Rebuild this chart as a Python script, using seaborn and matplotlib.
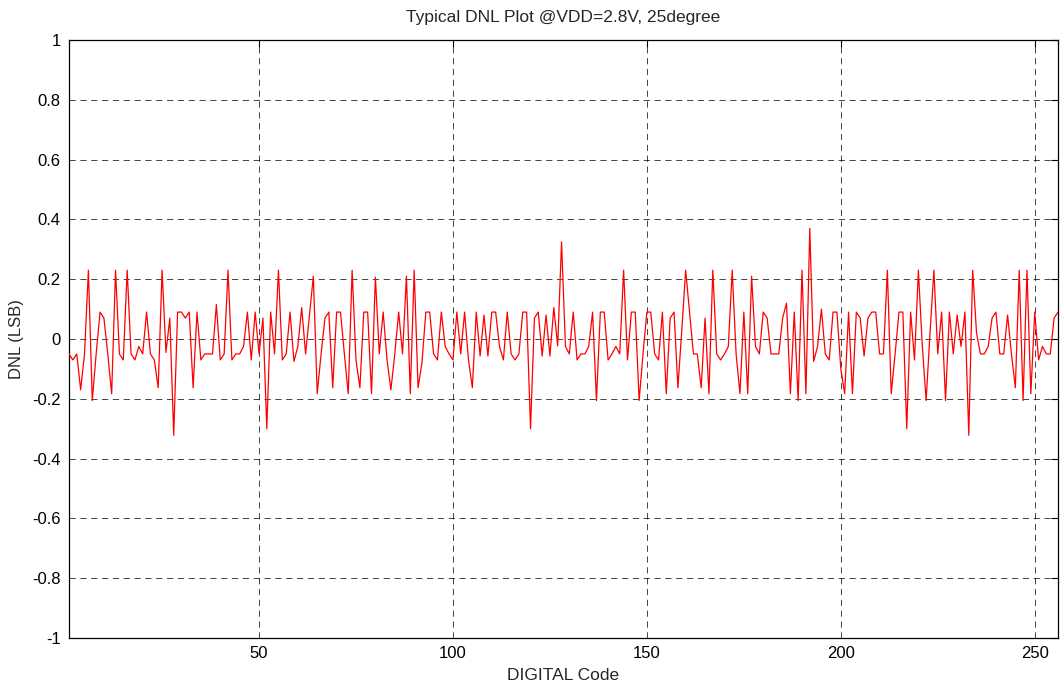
import numpy as np
import pandas as pd
import matplotlib
matplotlib.use("Agg")
import matplotlib.pyplot as plt
import seaborn as sns

codes = list(range(1, 257))
dnl = [
    -0.05, -0.07, -0.05, -0.17, -0.05, 0.23, -0.206, -0.05, 0.09, 0.07,
    -0.05, -0.183, 0.23, -0.05, -0.07, 0.23, -0.05, -0.07, -0.025, -0.05,
    0.09, -0.05, -0.07, -0.163, 0.23, -0.045, 0.07, -0.322, 0.09, 0.09,
    0.07, 0.09, -0.163, 0.09, -0.07, -0.05, -0.05, -0.05, 0.115, -0.07,
    -0.05, 0.23, -0.07, -0.05, -0.05, -0.025, 0.09, -0.07, 0.09, -0.05,
    0.07, -0.30, 0.09, -0.05, 0.23, -0.07, -0.05, 0.09, -0.075, -0.025,
    0.105, -0.05, 0.08, 0.21, -0.183, -0.05, 0.07, 0.09, -0.163, 0.09,
    0.09, -0.05, -0.183, 0.23, -0.07, -0.163, 0.09, 0.09, -0.183, 0.207,
    -0.05, 0.09, -0.07, -0.17, -0.05, 0.09, -0.05, 0.21, -0.183, 0.23,
    -0.163, -0.08, 0.09, 0.09, -0.05, -0.07, 0.09, -0.025, -0.05, -0.07,
    0.09, -0.05, 0.09, -0.07, -0.163, 0.09, -0.057, 0.08, -0.057, 0.09,
    0.09, -0.025, -0.07, 0.09, -0.05, -0.07, -0.05, 0.09, 0.09, -0.30,
    0.07, 0.09, -0.057, 0.08, -0.057, 0.105, -0.023, 0.325, -0.025, -0.05,
    0.09, -0.07, -0.05, -0.05, -0.025, 0.09, -0.206, 0.09, 0.09, -0.07,
    -0.05, -0.025, -0.05, 0.23, -0.07, 0.09, 0.09, -0.206, -0.05, 0.09,
    0.09, -0.05, -0.07, 0.09, -0.183, 0.07, 0.09, -0.163, 0.03, 0.23,
    0.09, -0.05, -0.05, -0.163, 0.07, -0.183, 0.23, -0.05, -0.07, -0.05,
    -0.025, 0.23, -0.05, -0.183, 0.09, -0.183, 0.21, -0.025, -0.05, 0.09,
    0.07, -0.05, -0.05, -0.05, 0.07, 0.12, -0.183, 0.09, -0.206, 0.23,
    -0.183, 0.37, -0.075, -0.025, 0.10, -0.05, -0.07, 0.09, 0.09, -0.10,
    -0.183, 0.09, -0.183, 0.09, 0.07, -0.057, 0.07, 0.09, 0.09, -0.05,
    -0.05, 0.23, -0.183, -0.05, 0.09, 0.09, -0.30, 0.09, -0.07, 0.23,
    -0.02, -0.206, 0.02, 0.23, -0.05, 0.09, -0.206, 0.09, -0.05, 0.08,
    -0.025, 0.09, -0.322, 0.23, 0.02, -0.05, -0.05, -0.025, 0.07, 0.09,
    -0.05, -0.05, 0.08, -0.05, -0.163, 0.23, -0.206, 0.23, -0.183, 0.09,
    -0.07, -0.025, -0.05, -0.05, 0.07, 0.09,
]
x_ticks = [50, 100, 150, 200, 250]
y_ticks = [-1, -0.8, -0.6, -0.4, -0.2, 0, 0.2, 0.4, 0.6, 0.8, 1]
y_tick_labels = ["-1", "-0.8", "-0.6", "-0.4", "-0.2", "0", "0.2", "0.4", "0.6", "0.8", "1"]
title = "Typical DNL Plot @VDD=2.8V, 25degree"
x_label = "DIGITAL Code"
y_label = "DNL (LSB)"

df = pd.DataFrame({"code": codes, "dnl": dnl})

sns.set_style("white")
plt.rcParams["font.family"] = ["Liberation Sans", "DejaVu Sans"]

fig = plt.figure(figsize=(10.61, 6.86), dpi=100)
ax = fig.add_axes([69 / 1061, 1 - 638 / 686, (1058 - 69) / 1061, (638 - 40) / 686])

sns.lineplot(data=df, x="code", y="dnl", ax=ax, color="red", linewidth=0.9, zorder=3)

ax.set_xlim(1, 256)
ax.set_ylim(-1, 1)
ax.set_xticks(x_ticks)
ax.set_xticklabels([str(t) for t in x_ticks])
ax.set_yticks(y_ticks)
ax.set_yticklabels(y_tick_labels)

ax.grid(True, color="black", linestyle=(0, (7.5, 5.5)), linewidth=0.6, alpha=0.85)
ax.tick_params(direction="in", length=5, width=0.8, colors="black",
               labelsize=12, top=True, right=True, pad=6)
for s in ax.spines.values():
    s.set_visible(True)
    s.set_color("black")
    s.set_linewidth(0.9)

ax.set_title(title, fontsize=12.5, pad=13)
ax.set_xlabel(x_label, fontsize=12.5, labelpad=5)
ax.set_ylabel(y_label, fontsize=12, labelpad=6)

fig.savefig("out.png", dpi=100)
